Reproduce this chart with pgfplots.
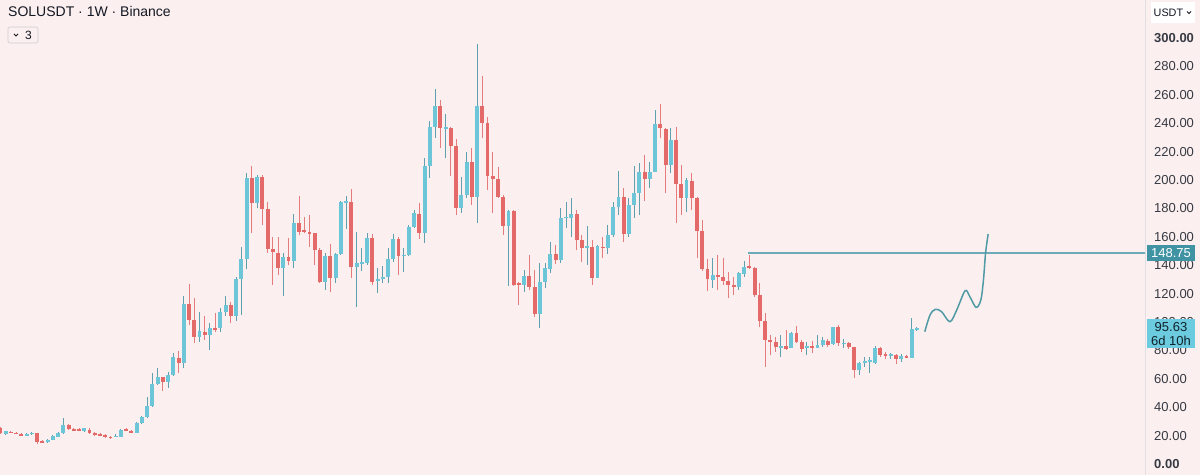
\documentclass[border=0pt]{standalone}
\usepackage{fontspec}
\setmainfont{Liberation Sans}
\usepackage{pgfplots}
\usepackage{pgfplotstable}
\pgfplotsset{compat=1.18}
\definecolor{bg}{RGB}{252,239,239}
\definecolor{upbody}{RGB}{108,198,216}
\definecolor{upwick}{RGB}{95,160,174}
\definecolor{dnbody}{RGB}{228,106,106}
\definecolor{dnwick}{RGB}{229,124,124}
\definecolor{hline}{RGB}{106,173,185}
\definecolor{curve}{RGB}{79,154,165}
\definecolor{labbox}{RGB}{63,147,163}
\definecolor{curbox}{RGB}{108,203,222}
\definecolor{txt}{RGB}{19,23,34}
\definecolor{sep}{RGB}{225,222,228}

% i o h l c
\pgfplotstableread{
i o h l c
1 21.1 23.5 20.5 23.2
5 19.8 21.5 19.4 21.1
6 21 22.5 20.5 22
9 15.5 17.8 15 17.2
10 17.2 20.5 16.7 20
11 19.2 22.5 18.8 22
12 21.6 32.2 21.2 27.5
16 23.3 25.5 22.8 25
22 19.2 21 18.8 19.9
23 19.2 24.5 18.8 23.9
26 22.1 29.5 21.6 28.6
27 28.6 33.5 28.2 32.9
28 32.9 47.4 32.4 40.8
29 40.8 63.8 40.3 56.3
30 56.3 67.4 55.8 61
32 58 65 53.3 62.7
33 62.7 77.9 62.2 75.1
35 70.9 118.3 67.4 112.4
38 89.2 106.8 86.2 93.7
40 90.8 99 80 95.5
42 95.5 109.6 93 106.8
43 106.8 118.6 104 112
45 104 132 101 130
46 130 152.6 105 144.1
47 144.1 204.7 137.1 201.6
49 184 203.5 180 202.3
54 137.8 148.4 118.3 145.6
56 143.2 176 137.8 169.5
62 128.4 148.4 122.5 146.5
64 131.2 148.8 127.2 147.7
65 147.7 185.2 147.2 184.3
66 184.3 188.7 165.5 185.2
68 138.5 163.6 110.3 141.3
69 141.3 151.9 136.2 142.5
70 141.3 162.4 140.1 158.9
72 129.1 137.8 120.2 130.1
73 130.1 139.4 127.2 131.5
74 131.5 151.9 127.2 144.1
75 144.1 161.7 142.5 158.2
77 146.5 151.9 135.4 147.2
78 147.2 168.3 146.5 167.1
79 167.1 178.9 165.9 176.5
81 162.4 215.3 155.4 209.9
82 209.9 241.8 201.2 237.1
83 237.1 263.9 229.4 252.3
85 236.4 246.5 215.3 237.1
88 180.5 201.9 176.5 189.4
89 189.4 219.9 187.1 212.9
91 188.3 295.8 169.5 252.1
97 167.8 178.9 125.6 178.4
100 126.1 136.6 121.4 132.6
103 105.6 141.3 95.5 128.4
104 128.4 141.8 123.7 137.8
105 137.1 156.6 134.3 147.7
107 143.7 180.1 141.8 173
108 173 184.3 166 174.2
109 173 187.1 160.1 175.8
112 152.8 167.8 140.1 153.1
114 131.2 154.2 130.8 153.5
116 151.9 168.3 147.7 161.3
117 161.3 184.3 160.1 181.2
118 181.2 206.3 175.4 188.3
120 161.7 187.1 160.1 182.4
121 182.4 209.9 173 191.1
122 191.1 211.7 175.4 205.4
124 200.7 212.9 194.1 205.4
125 205.9 249.3 205.4 239.2
128 210.6 236.4 204.7 228.2
131 187.6 201.6 177.2 200
136 129.6 144.8 123.7 133.1
141 124.9 135.4 122.5 134.3
142 133.6 143 131.9 139
149 82.2 90.8 75.6 83.1
151 81.5 93.2 81.5 92.5
154 82.2 86.2 76.8 83.1
156 81.5 90.8 81.5 83.8
157 83.8 89.7 82.6 87.3
159 84.5 96.7 83.8 96.2
161 84.5 87.8 81.5 85.5
164 66.2 72.1 62.7 70.9
165 70.9 75.6 68.5 72.8
166 72.3 75.1 64.4 73.2
167 71.4 83.1 70.4 81.5
170 76.6 78.4 73.7 77.2
172 73.7 77.5 72.1 76.1
174 74.4 102.6 74.4 94.8
175 94.8 96.7 93.9 95.63
}\up

\pgfplotstableread{
i o h l c
0 25 26 21 21.5
2 22.8 23.2 21.5 21.9
3 22 22.4 20.8 21.1
4 21.1 21.5 19.6 20
7 21.6 22 13.8 15.7
8 16.2 16.7 14.8 15.3
13 27.5 28 24.2 24.7
14 24.4 25 23.3 23.8
15 24.2 25 23.3 23.9
17 24.2 25 21 21.6
18 22 22.5 20 20.6
19 21.2 21.8 19.7 20.2
20 20.3 21 18.3 18.8
21 19.2 19.8 17.8 18.5
24 24.4 25 23 23.5
25 23.5 24 21.6 22.1
31 61 61.5 51.6 58
34 74.9 79.8 63.8 70.9
36 112.4 126.5 97.9 101.4
37 101.4 116.7 85 89.2
39 93.2 104 87 90.8
41 95.6 106 93 94.9
44 112 114 99 104
48 201.6 210.1 162.9 184
50 202.3 203.5 168.3 179.3
51 179.3 184.7 148.4 151.2
52 151.2 159.6 126.1 149.5
53 148.8 159.6 133.1 137.8
55 145.6 158.9 140.1 143.2
57 169.5 188.7 161.3 163.6
58 164.5 174.2 162.4 163.6
59 163.2 175.4 153 162.4
60 162.4 162.6 140.1 150.7
61 150.7 151.9 127.2 128.4
63 146.5 155 121.4 131.2
67 184.3 193.7 131.2 138.5
71 158.9 161.7 126.1 128.4
76 158.2 160.1 133.1 146.5
80 176.1 183.6 158.2 162.4
84 252.3 256.3 222.3 236.4
86 236.4 237.1 202.8 223.9
87 223.9 228.6 175.4 180.5
90 212.9 222.3 182.4 188.3
92 252.1 273.2 229.4 240.4
93 240.4 244.6 193 202.8
94 202.8 219.9 176.5 200.5
95 200.5 209.4 187.1 188.3
96 188.3 189.4 161.3 167.8
98 178.4 178.9 125.6 126.1
99 127.2 128.4 112 126.1
101 132.6 147.2 122.5 124.9
102 124.9 136.6 103.7 105.6
106 147.7 154.2 140.8 143.7
110 175.8 178.9 150.7 157.7
111 157.7 161.3 142.5 152.3
113 153.1 157.7 126.1 131.2
115 153.1 160.1 144.8 151.9
119 188.3 194.6 156.6 161.7
123 205.4 217.6 185.2 200.7
126 239.2 253.3 229.8 236.4
127 235.9 236.4 190.6 210.6
129 228.2 237.5 169.5 197
130 197 210.6 175.4 187.6
132 199.5 204.7 178.9 187.6
133 187.6 188.3 144.8 164.1
134 164.1 171.8 135.9 137.1
135 137.1 144.4 121.8 130.3
137 133.1 147.2 122.5 131.9
138 131.9 144.8 126.1 128.9
139 128.9 135.4 116.7 126.1
140 126.1 131.9 119 124.9
143 139.2 147.5 137.3 137.8
144 137.8 138.5 117.8 119
145 119 127.7 96.2 100.9
146 100.9 106.1 68.1 87.3
147 87.3 90.8 76.8 86.2
148 86.2 89.7 79.1 82.6
150 83.1 94.4 80.3 80.8
152 92 97.2 85 86.2
153 86.2 87.3 79.1 80.8
155 83.1 86.9 77.9 82.2
158 86.9 87.8 82.6 83.8
160 96.2 97.9 83.1 85
162 85 86.2 80.8 82.2
163 82.2 82.6 60.4 66.2
168 81.5 82.6 75.6 76.8
169 77.5 79.1 73.7 76.6
171 76.8 77.5 70.4 73.7
173 76.1 76.6 74.4 75.1
}\dn

\pgfplotsset{
  wick/.style={draw=none, mark=none, forget plot,
    error bars/.cd, y dir=both, y explicit, error mark=none,
    error bar style={draw=#1, line width=1pt}},
  body/.style={draw=none, mark=none, forget plot,
    error bars/.cd, y dir=both, y explicit, error mark=none,
    error bar style={draw=#1, line width=3.9pt}},
}

\begin{document}
\begin{tikzpicture}
\fill[bg] (0,0) rectangle (1200pt,475pt);
\useasboundingbox (0,0) rectangle (1200pt,475pt);
\begin{axis}[
  at={(0,0)}, anchor=south west,
  scale only axis, width=1145pt, height=475pt,
  xmin=-0.0955, xmax=218.55, ymin=-7.75, ymax=326.76,
  axis x line=none, axis y line*=right,
  y axis line style={draw=sep, line width=0.8pt, -},
  ytick={0,20,...,300},
  yticklabels={\textbf{0.00},20.00,40.00,60.00,80.00,100.00,120.00,140.00,160.00,180.00,200.00,220.00,240.00,260.00,280.00,\textbf{300.00}},
  major tick length=0pt,
  yticklabel shift=9pt,
  yticklabel style={anchor=west, inner sep=0pt, font=\fontsize{13}{13}\selectfont, text=txt!85},
]
\addplot[wick=upwick] table[x=i, y expr={(\thisrow{h}+\thisrow{l})/2}, y error expr={(\thisrow{h}-\thisrow{l})/2}] {\up};
\addplot[wick=dnwick] table[x=i, y expr={(\thisrow{h}+\thisrow{l})/2}, y error expr={(\thisrow{h}-\thisrow{l})/2}] {\dn};
\addplot[body=upbody] table[x=i, y expr={(\thisrow{o}+\thisrow{c})/2}, y error expr={max(abs(\thisrow{c}-\thisrow{o})/2,0.4)}] {\up};
\addplot[body=dnbody] table[x=i, y expr={(\thisrow{o}+\thisrow{c})/2}, y error expr={max(abs(\thisrow{c}-\thisrow{o})/2,0.4)}] {\dn};
\addplot[hline, line width=1.5pt] coordinates {(142.8,148.75) (218.6,148.75)};
\addplot[curve, line width=1.5pt, smooth, tension=0.55] coordinates {
(176.5,93.2) (177.5,104.9) (178.5,108.9) (179.7,107.3) (181.3,100.2) (182.6,108.5) (184.2,122) (185.1,117.8) (186.3,110.3) (187.2,115.5) (187.7,129.6) (188.1,148.4) (188.6,162)};
\end{axis}
% price labels
\fill[labbox] (1147pt,214pt) rectangle (1195pt,230.5pt);
\node[anchor=center, text=white, font=\fontsize{13}{13}\selectfont] at (1171pt,222.2pt) {148.75};
\fill[curbox] (1147pt,127pt) rectangle (1195pt,156pt);
\node[anchor=center, text=txt!90!teal, font=\fontsize{13}{13}\selectfont] at (1171pt,147.5pt) {95.63};
\node[anchor=center, text=txt!90!teal, font=\fontsize{13}{13}\selectfont] at (1171pt,134.5pt) {6d 10h};
% currency box
\fill[white] (1151pt,452pt) rectangle (1195pt,473pt);
\node[anchor=base west, text=txt, font=\fontsize{10.8}{11}\selectfont, inner sep=0pt] at (1153.5pt,458.5pt) {USDT};
\draw[txt, line width=0.8pt] (1187pt,463.5pt) -- (1189pt,461.5pt) -- (1191pt,463.5pt);
% title
\node[anchor=base west, text=txt, font=\fontsize{14}{14}\selectfont, inner sep=0pt] at (8pt,458pt) {SOLUSDT · 1W · Binance};
\draw[sep!80!gray, line width=0.6pt, rounded corners=2pt] (8pt,432pt) rectangle (38pt,448pt);
\draw[txt, line width=0.8pt] (14pt,441pt) -- (16pt,439pt) -- (18pt,441pt);
\node[anchor=base west, text=txt, font=\fontsize{12}{12}\selectfont, inner sep=0pt] at (25pt,435.5pt) {3};
\end{tikzpicture}
\end{document}
